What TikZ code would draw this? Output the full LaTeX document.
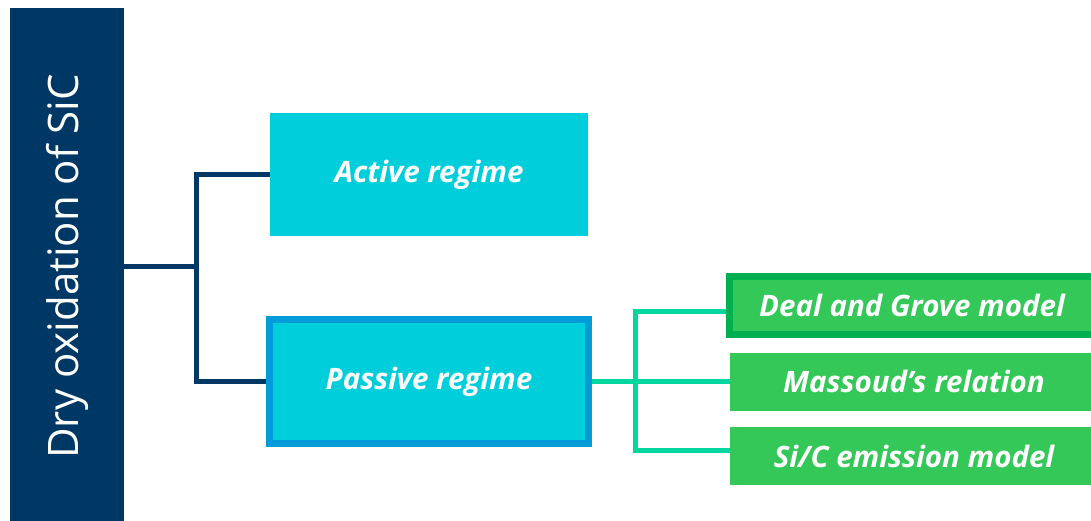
\documentclass[tikz,border=0pt]{standalone}
\usepackage{fontspec}
\setmainfont{Open Sans}
\usetikzlibrary{positioning}

\definecolor{navy}{RGB}{0,56,101}
\definecolor{cyanbox}{RGB}{0,206,219}
\definecolor{blueedge}{RGB}{0,155,217}
\definecolor{greenbox}{RGB}{52,200,88}
\definecolor{greenedge}{RGB}{0,176,80}
\definecolor{tealline}{RGB}{0,214,160}

\begin{document}
\begin{tikzpicture}[
  x=1pt, y=1pt,
  regime/.style={fill=cyanbox,text=white,font=\bfseries\itshape\fontsize{29.5}{34}\selectfont,
    minimum width=318pt,minimum height=123pt,inner sep=0pt},
  model/.style={fill=greenbox,text=white,font=\bfseries\itshape\fontsize{29.5}{34}\selectfont,
    minimum width=368pt,minimum height=58pt,inner sep=0pt},
  navylink/.style={draw=navy,line width=5pt},
  teallink/.style={draw=tealline,line width=5pt}
]
\clip (0,0) rectangle (1091,520);
\fill[white] (0,0) rectangle (1091,520);

% title bar, text runs bottom to top
\node[fill=navy,text=white,rotate=90,minimum width=517pt,minimum height=114pt,
  font=\fontsize{42}{48}\selectfont] (T) at (67,253.5) {Dry oxidation of SiC};

\node[regime] (A) at (429,345.5) {Active regime};
\node[regime,draw=blueedge,line width=7pt,minimum width=319pt,minimum height=124pt]
  (P) at (429,138.5) {Passive regime};

\node[model,draw=greenedge,line width=7pt,minimum width=365pt,minimum height=58pt]
  (D) at (912,214.5) {Deal and Grove model};
\node[model] (M) at (914,138.5) {Massoud’s relation};
\node[model] (E) at (914,64) {Si/C emission model};

% brackets
\draw[navylink] (T.south) -- ++(72,0) coordinate (j1);
\draw[navylink] (A.west) -| (j1) |- (P.west);
\draw[teallink] (P.east) -- ++(43.5,0) coordinate (j2);
\draw[teallink] ([yshift=-6pt]D.west) -| (j2) |- ([yshift=6pt]E.west);
\draw[teallink] (j2) -- (M.west);
\end{tikzpicture}
\end{document}
